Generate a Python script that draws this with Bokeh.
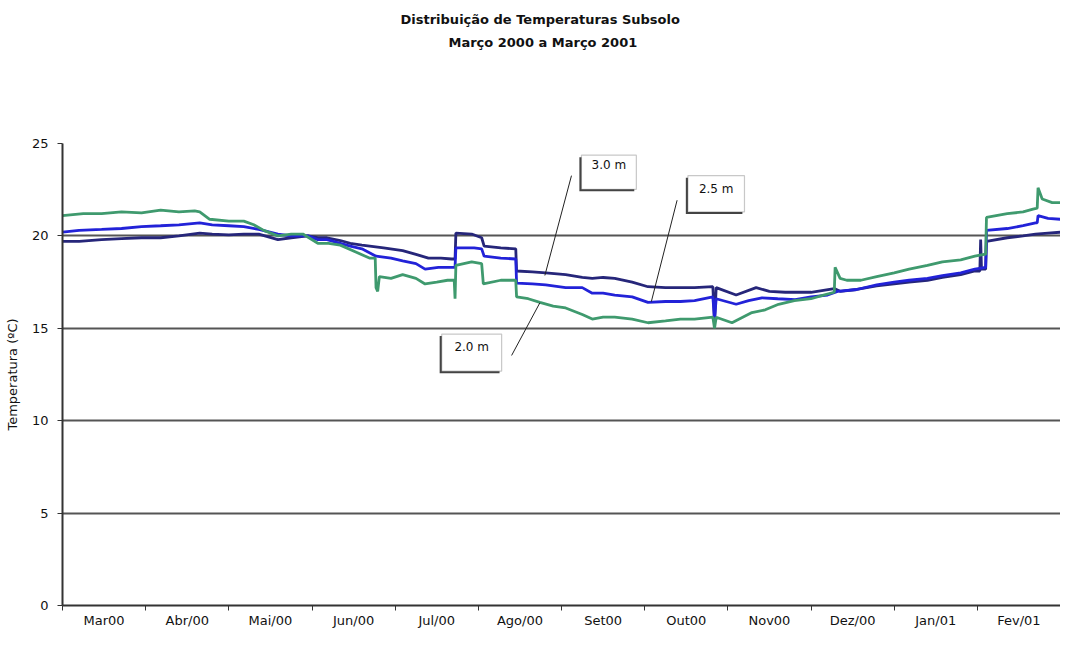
from bokeh.plotting import figure
from bokeh.models import (Range1d, FixedTicker, CustomJSTickFormatter, Label, Title,
                          BoxAnnotation, Arrow)
from bokeh.embed import file_html
from bokeh.resources import INLINE

# ---------------- data ----------------
titulo = "Distribuição de Temperaturas Subsolo"
subtitulo = "Março 2000 a Março 2001"
meses = ["Mar00", "Abr/00", "Mai/00", "Jun/00", "Jul/00", "Ago/00",
         "Set00", "Out00", "Nov00", "Dez/00", "Jan/01", "Fev/01"]
y_ticks = [0, 5, 10, 15, 20, 25]

# time axis in months since start of March 2000
t_2_0 = [0.0, 0.25, 0.47, 0.71, 0.95, 1.18, 1.4, 1.59, 1.65, 1.77, 2.0, 2.18, 2.3, 2.42,
         2.59, 2.75, 2.89, 3.07, 3.2, 3.34, 3.54, 3.69, 3.76, 3.77, 3.79, 3.81, 3.95, 4.09,
         4.25, 4.36, 4.5, 4.63, 4.71, 4.72, 4.73, 4.92, 5.04, 5.06, 5.27, 5.45, 5.46, 5.6,
         5.74, 5.9, 6.05, 6.25, 6.37, 6.5, 6.64, 6.85, 7.04, 7.25, 7.43, 7.6, 7.82, 7.84,
         7.86, 8.05, 8.29, 8.45, 8.61, 8.8, 9.0, 9.15, 9.28, 9.29, 9.35, 9.43, 9.6, 9.79,
         10.0, 10.18, 10.4, 10.58, 10.8, 10.97, 11.08, 11.1, 11.11, 11.36, 11.55, 11.67,
         11.72, 11.73, 11.78, 11.9, 12.0]
temp_2_0 = [21.1, 21.2, 21.2, 21.3, 21.25, 21.4, 21.3, 21.35, 21.3, 20.9, 20.8, 20.8, 20.6, 20.3,
            20.0, 20.1, 20.1, 19.6, 19.6, 19.5, 19.1, 18.8, 18.8, 17.2, 17.0, 17.8, 17.7, 17.9,
            17.7, 17.4, 17.5, 17.6, 17.6, 16.6, 18.4, 18.6, 18.5, 17.4, 17.6, 17.6, 16.7, 16.6,
            16.4, 16.2, 16.1, 15.75, 15.5, 15.6, 15.6, 15.5, 15.3, 15.4, 15.5, 15.5, 15.6, 15.0,
            15.6, 15.3, 15.85, 16.0, 16.3, 16.5, 16.6, 16.8, 16.95, 18.3, 17.7, 17.6, 17.6, 17.8,
            18.0, 18.2, 18.4, 18.6, 18.7, 18.9, 19.0, 19.0, 21.0, 21.2, 21.3, 21.45,
            21.5, 22.6, 22.0, 21.8, 21.8]

t_2_5 = [0.0, 0.2, 0.47, 0.71, 0.95, 1.18, 1.4, 1.65, 1.8, 2.0, 2.18, 2.36, 2.59, 2.75, 2.95,
         3.07, 3.18, 3.34, 3.46, 3.6, 3.77, 3.95, 4.09, 4.25, 4.36, 4.52, 4.68, 4.72, 4.73,
         4.95, 5.04, 5.07, 5.27, 5.45, 5.46, 5.65, 5.81, 6.05, 6.25, 6.37, 6.5, 6.64, 6.85,
         7.04, 7.25, 7.43, 7.6, 7.82, 7.84, 7.86, 8.1, 8.25, 8.41, 8.6, 8.81, 9.0, 9.2, 9.32,
         9.55, 9.79, 10.0, 10.18, 10.4, 10.58, 10.8, 10.97, 11.1, 11.11, 11.36, 11.55, 11.7,
         11.72, 11.73, 11.85, 12.0]
temp_2_5 = [20.2, 20.3, 20.35, 20.4, 20.5, 20.55, 20.6, 20.7, 20.6, 20.55, 20.5, 20.35, 20.1, 20.0, 20.0,
            19.8, 19.8, 19.6, 19.45, 19.3, 18.9, 18.8, 18.65, 18.5, 18.2, 18.3, 18.3, 18.3, 19.35,
            19.35, 19.3, 18.9, 18.8, 18.75, 17.45, 17.4, 17.35, 17.2, 17.2, 16.9, 16.9, 16.8, 16.7,
            16.4, 16.45, 16.45, 16.5, 16.7, 15.5, 16.6, 16.3, 16.5, 16.65, 16.6, 16.55, 16.7, 16.8, 17.0,
            17.1, 17.35, 17.5, 17.6, 17.7, 17.85, 18.0, 18.2, 18.3, 20.3, 20.4, 20.55, 20.7,
            20.7, 21.1, 20.95, 20.9]

t_3_0 = [0.0, 0.2, 0.47, 0.71, 0.95, 1.18, 1.4, 1.65, 1.8, 2.0, 2.18, 2.36, 2.59, 2.75, 2.95,
         3.07, 3.18, 3.34, 3.46, 3.6, 3.86, 4.09, 4.25, 4.4, 4.55, 4.68, 4.72, 4.73, 4.92,
         5.04, 5.07, 5.27, 5.45, 5.46, 5.65, 5.81, 6.05, 6.25, 6.37, 6.5, 6.64, 6.85, 7.04,
         7.25, 7.43, 7.6, 7.82, 7.84, 7.86, 8.1, 8.34, 8.5, 8.69, 9.0, 9.28, 9.35, 9.55, 9.79,
         10.0, 10.18, 10.4, 10.58, 10.8, 10.97, 11.03, 11.04, 11.05, 11.1, 11.11, 11.36, 11.55,
         11.7, 11.85, 12.0]
temp_3_0 = [19.7, 19.7, 19.8, 19.85, 19.9, 19.9, 20.0, 20.15, 20.1, 20.05, 20.1, 20.1, 19.8, 19.9, 20.0,
            19.9, 19.9, 19.75, 19.6, 19.5, 19.35, 19.2, 19.0, 18.8, 18.8, 18.75, 18.75, 20.15, 20.1,
            19.9, 19.45, 19.35, 19.3, 18.1, 18.05, 18.0, 17.9, 17.75, 17.7, 17.75, 17.7, 17.5, 17.25,
            17.2, 17.2, 17.2, 17.25, 15.3, 17.2, 16.8, 17.2, 17.0, 16.95, 16.95, 17.15, 17.0, 17.1, 17.3,
            17.4, 17.5, 17.6, 17.75, 17.9, 18.1, 18.1, 19.8, 18.2, 18.2, 19.7, 19.9, 20.0,
            20.1, 20.15, 20.2]

# ---------------- figure ----------------
FONT = "DejaVu Sans"
INK = "#111111"

p = figure(width=1060, height=630, x_range=Range1d(0, 12), y_range=Range1d(0, 25),
           output_backend="svg", toolbar_location=None, title=titulo,
           min_border_left=62, min_border_right=0, min_border_top=143, min_border_bottom=25)
p.outline_line_color = None
p.background_fill_color = "white"

# titles: outermost = main title, then subtitle, then an empty spacer next to the frame
p.title.align = "left"
p.title.offset = 338
p.title.text_font = FONT
p.title.text_font_size = "13px"
p.title.text_font_style = "bold"
p.title.text_color = INK
p.title.standoff = 4

spacer = Title(text=" ", text_font_size="13px", text_font=FONT, standoff=73)
sub = Title(text=subtitulo, align="left", offset=386, text_font=FONT, text_font_size="13px",
            text_font_style="bold", text_color=INK, standoff=8)
p.add_layout(spacer, "above")
p.add_layout(sub, "above")

# y axis
p.yaxis.ticker = FixedTicker(ticks=y_ticks)
p.yaxis.axis_label = "Temperatura (ºC)"
p.yaxis.axis_label_text_font = FONT
p.yaxis.axis_label_text_font_size = "13px"
p.yaxis.axis_label_text_font_style = "normal"
p.yaxis.axis_label_text_color = INK
p.yaxis.axis_label_standoff = 9
p.yaxis.major_label_text_font = FONT
p.yaxis.major_label_text_font_size = "13px"
p.yaxis.major_label_text_color = INK
p.yaxis.major_tick_out = 5
p.yaxis.major_tick_in = 0
p.yaxis.minor_tick_line_color = None
p.yaxis.axis_line_width = 2
p.yaxis.axis_line_color = "#333333"
p.yaxis.major_tick_line_color = "#333333"
p.yaxis.major_label_standoff = 9

# x axis: labels centred in each month, ticks at month boundaries
p.xaxis.ticker = FixedTicker(ticks=[i + 0.5 for i in range(len(meses))],
                             minor_ticks=list(range(len(meses) + 1)))
p.xaxis.formatter = CustomJSTickFormatter(args=dict(labels=meses),
                                          code="return labels[Math.floor(tick)];")
p.xaxis.major_tick_line_color = None
p.xaxis.major_tick_out = 0
p.xaxis.major_tick_in = 0
p.xaxis.minor_tick_out = 5
p.xaxis.minor_tick_in = 0
p.xaxis.minor_tick_line_color = "#333333"
p.xaxis.axis_line_width = 2
p.xaxis.axis_line_color = "#333333"
p.xaxis.major_label_standoff = 2
p.xaxis.major_label_text_font = FONT
p.xaxis.major_label_text_font_size = "13px"
p.xaxis.major_label_text_color = INK

p.xgrid.grid_line_color = None
p.ygrid.ticker = FixedTicker(ticks=y_ticks[1:])
p.ygrid.grid_line_color = "#555555"
p.ygrid.grid_line_width = 2

# series
p.line(t_3_0, temp_3_0, line_color="#26267a", line_width=2.8)
p.line(t_2_5, temp_2_5, line_color="#2222d8", line_width=2.8)
p.line(t_2_0, temp_2_0, line_color="#3f9a6e", line_width=2.8)

# annotation boxes with leader lines
def callout(text, left, right, bottom, top, ty, lx0, ly0, lx1, ly1):
    p.add_layout(Arrow(end=None, x_start=lx0, y_start=ly0, x_end=lx1, y_end=ly1,
                       line_color="#222222", line_width=1))
    p.add_layout(BoxAnnotation(left=left - 0.025, right=right - 0.025,
                               bottom=bottom - 0.11, top=top - 0.11,
                               fill_color="#444444", fill_alpha=1, line_color=None))
    p.add_layout(BoxAnnotation(left=left, right=right, bottom=bottom, top=top,
                               fill_color="white", fill_alpha=1,
                               line_color="#4a4a4a", line_width=1.2))
    p.add_layout(Label(x=(left + right) / 2, y=ty, text=text, text_align="center",
                       text_baseline="middle", text_font=FONT, text_font_size="12px",
                       text_color=INK))

callout("3.0 m", 6.24, 6.90, 22.52, 24.37, 23.81, 6.12, 23.26, 5.80, 17.86)
callout("2.5 m", 7.52, 8.20, 21.30, 23.26, 22.54, 7.39, 21.93, 7.08, 16.44)
callout("2.0 m", 4.56, 5.28, 12.68, 14.69, 13.98, 5.40, 13.53, 5.74, 16.38)

open("out.html", "w").write(file_html(p, INLINE))
